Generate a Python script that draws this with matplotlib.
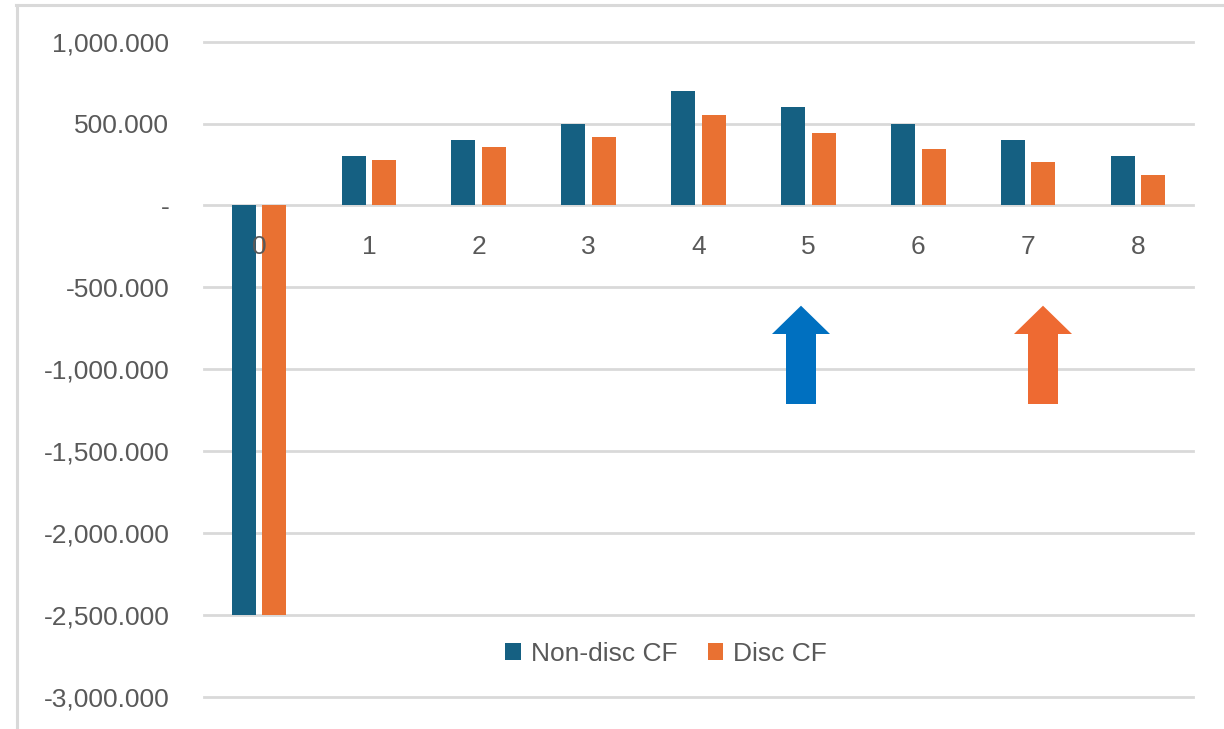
import matplotlib
matplotlib.use("Agg")
import matplotlib.pyplot as plt
from matplotlib.lines import Line2D
from matplotlib.patches import Polygon
from matplotlib.ticker import FuncFormatter
import numpy as np

# Cash flow data by period
periods = [0, 1, 2, 3, 4, 5, 6, 7, 8]
non_disc_cf = [-2500, 300, 400, 500, 700, 600, 500, 400, 300]
disc_cf = [-2500, 275, 355, 415, 555, 445, 345, 265, 185]
series_names = ["Non-disc CF", "Disc CF"]
y_ticks = [-3000, -2500, -2000, -1500, -1000, -500, 0, 500, 1000]

BLUE = "#156082"
ORANGE = "#E97132"
GRID = "#D9D9D9"
TEXT = "#595959"
FS = 19

plt.rcParams["font.family"] = ["Liberation Sans", "DejaVu Sans"]

W, H = 1224, 729
fig = plt.figure(figsize=(W / 100, H / 100), dpi=100)


def px(x, y):
    """Pixel position (from top-left) to figure fraction."""
    return x / W, 1 - y / H


left, top = px(204, 41.7)
right, bottom = px(1193, 696.5)
ax = fig.add_axes([left, bottom, right - left, top - bottom])

x = np.arange(len(periods))
bw = 0.218
off = 0.139
ax.bar(x - off, non_disc_cf, bw, color=BLUE, label=series_names[0], zorder=2)
ax.bar(x + off, disc_cf, bw, color=ORANGE, label=series_names[1], zorder=2)

ax.set_xlim(-0.5, len(periods) - 0.5)
ax.set_ylim(y_ticks[0], y_ticks[-1])
ax.set_yticks(y_ticks)


def fmt(v, _):
    if v == 0:
        return "-"
    return f"{v:,.3f}"


ax.yaxis.set_major_formatter(FuncFormatter(fmt))
ax.grid(axis="y", color=GRID, linewidth=2.0)
for gl in ax.get_ygridlines():
    gl.set_clip_on(False)
ax.set_axisbelow(True)

# Category labels sit just under the zero line and above the bars
ax.spines["bottom"].set_position(("data", 0))
ax.set_xticks(x)
ax.set_xticklabels([str(p) for p in periods])
ax.xaxis.set_zorder(5)
for s in ax.spines.values():
    s.set_visible(False)
ax.tick_params(axis="x", length=0, pad=21, labelsize=FS, labelcolor=TEXT)
ax.tick_params(axis="y", length=0, pad=25, labelsize=FS, labelcolor=TEXT)

leg = ax.legend(
    ncol=2, loc="center", bbox_to_anchor=px(666, 654), bbox_transform=fig.transFigure,
    frameon=False, fontsize=FS, handlelength=0.6, handleheight=0.6,
    handletextpad=0.38, columnspacing=1.15, borderpad=0,
)
for t in leg.get_texts():
    t.set_color(TEXT)


def up_arrow(xl, xr, sl, sr, y_tip, y_head, y_bot, color):
    pts = [px(sl, y_bot), px(sl, y_head), px(xl, y_head), px((xl + xr) / 2, y_tip),
           px(xr, y_head), px(sr, y_head), px(sr, y_bot)]
    fig.patches.append(Polygon(pts, closed=True, transform=fig.transFigure,
                               facecolor=color, edgecolor="none"))


up_arrow(772, 830, 786, 816, 305.7, 334, 404, "#0070C0")
up_arrow(1014, 1072, 1028, 1058, 305.7, 334, 404, "#EE6A32")

# Chart-area border
fig.add_artist(Line2D([16 / W, 1.0], [1 - 4.5 / H] * 2, transform=fig.transFigure,
                      color=GRID, linewidth=2.2))
fig.add_artist(Line2D([16.5 / W] * 2, [1 - 4.5 / H, 0.0], transform=fig.transFigure,
                      color=GRID, linewidth=2.2))

fig.savefig("out.png", dpi=100, facecolor="white")
